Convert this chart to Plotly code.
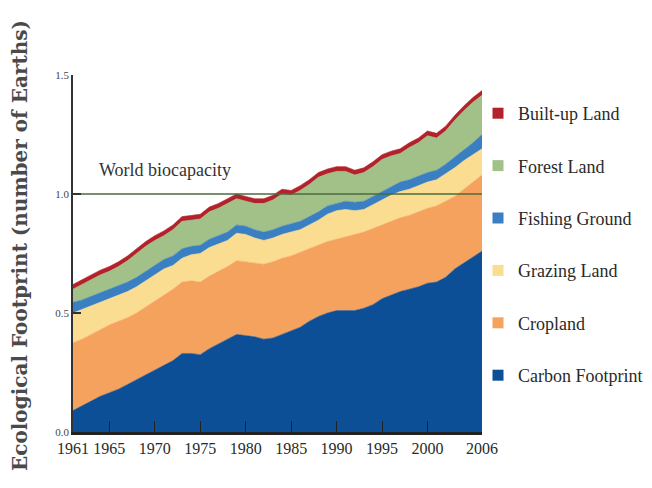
import numpy as np
import plotly.graph_objects as go

years = list(range(1961, 2007))

# Upper boundary of each stacked layer (number of Earths)
carbon_top = [0.09, 0.11, 0.13, 0.15, 0.165, 0.18, 0.20, 0.22, 0.24, 0.26,
              0.28, 0.30, 0.33, 0.33, 0.325, 0.35, 0.37, 0.39, 0.41, 0.405,
              0.40, 0.39, 0.395, 0.41, 0.425, 0.44, 0.465, 0.485, 0.50, 0.51,
              0.51, 0.51, 0.52, 0.535, 0.56, 0.575, 0.59, 0.60, 0.61, 0.625,
              0.63, 0.65, 0.685, 0.71, 0.735, 0.76]
cropland_top = [0.375, 0.39, 0.41, 0.43, 0.45, 0.465, 0.48, 0.50, 0.525, 0.55,
                0.575, 0.60, 0.63, 0.635, 0.63, 0.655, 0.675, 0.695, 0.72, 0.715,
                0.71, 0.705, 0.715, 0.73, 0.74, 0.755, 0.77, 0.785, 0.80, 0.81,
                0.82, 0.83, 0.84, 0.855, 0.87, 0.885, 0.90, 0.91, 0.925, 0.94,
                0.95, 0.97, 0.99, 1.02, 1.05, 1.08]
grazing_top = [0.50, 0.515, 0.53, 0.545, 0.56, 0.575, 0.59, 0.61, 0.635, 0.66,
               0.685, 0.70, 0.73, 0.745, 0.75, 0.775, 0.79, 0.805, 0.835, 0.83,
               0.815, 0.805, 0.815, 0.83, 0.84, 0.85, 0.87, 0.89, 0.915, 0.93,
               0.935, 0.93, 0.935, 0.955, 0.975, 0.995, 1.01, 1.02, 1.035, 1.05,
               1.06, 1.085, 1.11, 1.14, 1.165, 1.19]
fishing_top = [0.545, 0.555, 0.57, 0.585, 0.60, 0.615, 0.63, 0.65, 0.675, 0.70,
               0.725, 0.74, 0.77, 0.78, 0.785, 0.81, 0.825, 0.84, 0.87, 0.865,
               0.85, 0.84, 0.85, 0.865, 0.875, 0.885, 0.905, 0.925, 0.95, 0.96,
               0.97, 0.965, 0.97, 0.99, 1.01, 1.03, 1.05, 1.06, 1.075, 1.09,
               1.10, 1.125, 1.155, 1.185, 1.215, 1.25]
forest_top = [0.60, 0.62, 0.64, 0.66, 0.675, 0.695, 0.72, 0.75, 0.78, 0.805,
              0.825, 0.85, 0.885, 0.89, 0.895, 0.925, 0.94, 0.96, 0.98, 0.97,
              0.96, 0.96, 0.975, 1.00, 0.995, 1.015, 1.04, 1.07, 1.085, 1.095,
              1.095, 1.08, 1.09, 1.115, 1.145, 1.16, 1.17, 1.195, 1.215, 1.245,
              1.235, 1.265, 1.31, 1.35, 1.385, 1.415]
builtup_top = [0.62, 0.64, 0.66, 0.68, 0.695, 0.715, 0.74, 0.77, 0.80, 0.825,
               0.845, 0.87, 0.905, 0.91, 0.915, 0.945, 0.96, 0.98, 1.00, 0.99,
               0.98, 0.98, 0.995, 1.02, 1.015, 1.035, 1.06, 1.09, 1.105, 1.115,
               1.115, 1.10, 1.11, 1.135, 1.165, 1.18, 1.19, 1.215, 1.235, 1.265,
               1.255, 1.285, 1.33, 1.37, 1.405, 1.435]

biocapacity = [1.0] * len(years)

names = ["Carbon Footprint", "Cropland", "Grazing Land", "Fishing Ground",
         "Forest Land", "Built-up Land"]
colors = ["#0c4f97", "#f5a25e", "#fadd90", "#3b7fc3", "#a2c189", "#b3222a"]

x_ticks = [1961, 1965, 1970, 1975, 1980, 1985, 1990, 1995, 2000, 2006]
y_ticks = [0.0, 0.5, 1.0, 1.5]

tops = np.array([carbon_top, cropland_top, grazing_top, fishing_top,
                 forest_top, builtup_top])
layers = np.vstack([tops[0], np.diff(tops, axis=0)])

serif = "Liberation Serif"
W, H = 644, 480          # page body adds an 8px offset
L, R, T, B = 65, 170, 67, 56
PW, PH = W - L - R, H - T - B

fig = go.Figure()
for i, (name, col) in enumerate(zip(names, colors)):
    fig.add_trace(go.Scatter(
        x=years, y=layers[i], name=name, stackgroup="fp", mode="lines",
        line=dict(width=0.6, color=col), fillcolor=col,
        showlegend=False, hoverinfo="x+y+name"))
# legend entries, top to bottom as in the reference
for name, col in list(zip(names, colors))[::-1]:
    fig.add_trace(go.Scatter(
        x=[None], y=[None], name=name, mode="markers", legendgroup=name,
        marker=dict(symbol="square", size=11, color=col), showlegend=True))

fig.add_trace(go.Scatter(x=years, y=biocapacity, mode="lines",
                         line=dict(color="#4c6a3c", width=1.6),
                         showlegend=False, name="World biocapacity"))

fig.add_annotation(x=1971.1, y=1.10, xref="x", yref="y",
                   text="World biocapacity", showarrow=False,
                   font=dict(family=serif, size=18, color="#333333"))

fig.add_annotation(x=(12 - L) / PW, y=(T + PH - 238) / PH,
                   xref="paper", yref="paper", xanchor="center", yanchor="middle",
                   text="<b>Ecological Footprint (number of Earths)</b>",
                   textangle=-90, showarrow=False,
                   font=dict(family="DejaVu Serif", size=20, color="#4a4a4a"))

fig.update_layout(
    width=W, height=H,
    margin=dict(l=L, r=R, t=T, b=B, autoexpand=False),
    paper_bgcolor="white", plot_bgcolor="white",
    font=dict(family=serif, color="#333333"),
    legend=dict(x=470 / W, y=1 - 87 / H, xref="container", yref="container",
                xanchor="left", yanchor="top", maxheight=0.95,
                traceorder="grouped", tracegroupgap=26,
                font=dict(family=serif, size=18, color="#2a2a2a"),
                itemwidth=30, bgcolor="rgba(0,0,0,0)"),
)
fig.update_xaxes(range=[1961, 2006], tickvals=x_ticks,
                 ticktext=[str(t) for t in x_ticks], tickangle=0,
                 showgrid=False, zeroline=False,
                 showline=True, linecolor="#222222", linewidth=3,
                 ticks="inside", ticklen=11, tickwidth=1.3, tickcolor="#222222",
                 tickfont=dict(family=serif, size=16, color="#2a2a2a"))
fig.update_yaxes(range=[0, 1.5], tickvals=y_ticks,
                 ticktext=["0.0", "0.5", "1.0", "1.5"],
                 showgrid=False, zeroline=False,
                 showline=True, linecolor="#333333", linewidth=1.5,
                 ticks="inside", ticklen=8, tickwidth=1.5, tickcolor="#333333",
                 tickfont=dict(family=serif, size=11, color="#444444"))

fig.write_html("out.html")
